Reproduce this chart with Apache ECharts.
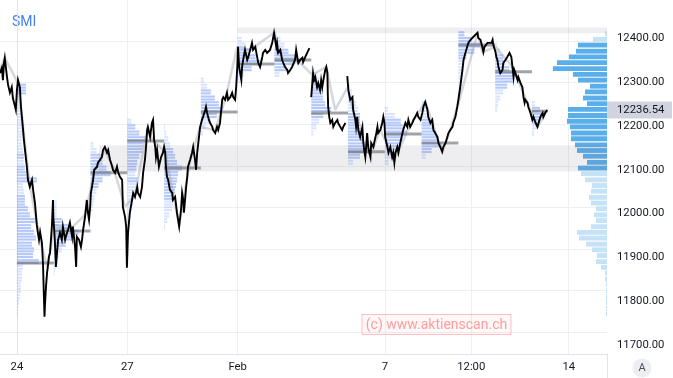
<!DOCTYPE html>
<html><head><meta charset="utf-8">
<script src="https://cdn.jsdelivr.net/npm/echarts@6/dist/echarts.min.js"></script>
<style>html,body{margin:0;padding:0;background:#fff}#c{width:673px;height:378px}</style>
</head><body><div id="c"></div>
<script>
// ---------------- DATA ----------------
// x = trading days since 24 Jan 09:00 (one trading session = 1), y = SMI points
const title = 'SMI';
const tickDays = [0, 3, 6, 10, 12.35, 15];
const tickLabels = ['24', '27', 'Feb', '7', '12:00', '14'];
const lastPrice = 12236.54;

const smiLine = [
[-0.46,12321],[-0.41,12333],[-0.38,12305],[-0.35,12346],[-0.33,12356],[-0.27,12312],[-0.24,12294],[-0.19,12276],[-0.14,12289],[-0.11,12264],[-0.05,12244],[-0.03,12237],
[0.00,12282],[0.03,12305],[0.08,12289],[0.11,12244],[0.16,12198],[0.19,12168],[0.22,12145],[0.27,12107],[0.30,12077],[0.35,12061],[0.41,12077],[0.44,12054],[0.49,12024],[0.54,11974],[0.57,11956],[0.60,11940],[0.63,11958],[0.68,11933],[0.71,11883],[0.73,11819],[0.75,11764],[0.76,11787],[0.79,11833],[0.82,11865],[0.84,11878],[0.87,11901],[0.90,11910],[0.95,11970],[0.98,12031],[0.99,11992],
[1.03,11940],[1.06,11878],[1.09,11910],[1.12,11940],[1.17,11956],[1.22,11940],[1.25,11970],[1.31,11940],[1.36,11956],[1.39,11963],[1.44,11979],[1.50,11947],[1.52,11970],[1.58,11924],[1.61,11878],[1.63,11947],[1.69,11940],[1.74,11924],[1.77,11940],[1.80,11963],[1.85,11992],[1.88,12015],[1.90,12031],[1.93,12002],[1.96,11986],
[1.99,12015],[2.01,12047],[2.04,12061],[2.07,12077],[2.10,12100],[2.18,12107],[2.20,12116],[2.26,12123],[2.31,12129],[2.34,12145],[2.39,12152],[2.45,12139],[2.48,12145],[2.53,12123],[2.59,12107],[2.61,12100],[2.67,12093],[2.72,12107],[2.75,12095],[2.80,12084],[2.86,12077],[2.88,12015],[2.94,11992],[2.97,11970],
[2.99,11876],[3.02,11956],[3.07,12002],[3.13,12031],[3.16,12047],[3.21,12038],[3.27,12061],[3.29,12047],[3.35,12038],[3.40,12061],[3.43,12093],[3.48,12123],[3.51,12152],[3.54,12191],[3.56,12198],[3.62,12175],[3.67,12207],[3.70,12214],[3.73,12168],[3.76,12152],[3.78,12129],[3.81,12145],[3.84,12123],[3.86,12107],[3.92,12129],[3.97,12139],
[4.00,12152],[4.03,12139],[4.05,12107],[4.08,12084],[4.11,12077],[4.16,12054],[4.22,12047],[4.24,12031],[4.30,12038],[4.35,12002],[4.38,11986],[4.41,11970],[4.46,12008],[4.49,12047],[4.52,12031],[4.54,12002],[4.57,12031],[4.60,12061],[4.63,12084],[4.65,12107],[4.71,12123],[4.76,12139],[4.79,12152],[4.84,12123],[4.87,12100],[4.90,12139],[4.93,12161],
[4.98,12198],[5.03,12214],[5.06,12221],[5.12,12237],[5.14,12244],[5.17,12230],[5.22,12214],[5.25,12207],[5.31,12198],[5.33,12191],[5.39,12184],[5.44,12198],[5.47,12191],[5.52,12207],[5.58,12260],[5.61,12266],[5.66,12260],[5.71,12276],[5.74,12260],[5.80,12266],[5.85,12276],[5.88,12266],[5.93,12260],[5.96,12289],
[5.99,12335],[6.01,12381],[6.04,12335],[6.10,12305],[6.12,12335],[6.15,12351],[6.20,12374],[6.26,12351],[6.29,12358],[6.34,12374],[6.39,12390],[6.42,12374],[6.48,12381],[6.53,12358],[6.56,12344],[6.61,12335],[6.67,12358],[6.69,12367],[6.75,12374],[6.80,12367],[6.83,12369],[6.88,12374],[6.94,12390],[6.97,12404],
[6.99,12413],[7.02,12397],[7.05,12381],[7.07,12390],[7.10,12367],[7.16,12374],[7.21,12351],[7.24,12344],[7.29,12335],[7.35,12328],[7.37,12321],[7.43,12328],[7.48,12335],[7.51,12333],[7.56,12351],[7.59,12374],[7.62,12358],[7.65,12344],[7.70,12351],[7.76,12356],[7.78,12346],[7.84,12358],[7.89,12367],[7.95,12378],
[7.97,null],
[8.00,12266],[8.03,12298],[8.05,12321],[8.08,12305],[8.11,12312],[8.16,12289],[8.19,12298],[8.24,12282],[8.27,12305],[8.30,12289],[8.33,12305],[8.38,12328],[8.41,12335],[8.44,12321],[8.45,12276],[8.46,12244],[8.49,12221],[8.52,12207],[8.57,12214],[8.60,12198],[8.65,12207],[8.71,12214],[8.73,12207],[8.79,12198],[8.84,12191],[8.87,12198],[8.93,12207],
[8.95,null],
[8.98,12314],[9.01,12282],[9.06,12260],[9.12,12266],[9.14,12237],[9.20,12214],[9.22,12198],[9.25,12221],[9.28,12191],[9.33,12175],[9.39,12198],[9.41,12168],[9.44,12145],[9.47,12129],[9.50,12161],[9.52,12184],[9.55,12152],[9.58,12139],[9.61,12129],[9.63,12161],[9.69,12152],[9.71,12161],[9.77,12184],[9.80,12198],[9.82,12184],[9.88,12191],[9.93,12207],[9.96,12221],
[9.99,12207],[10.01,12175],[10.07,12152],[10.10,12139],[10.15,12152],[10.20,12129],[10.23,12139],[10.26,12116],[10.29,12139],[10.34,12152],[10.37,12139],[10.42,12161],[10.48,12184],[10.50,12191],[10.56,12207],[10.61,12198],[10.64,12214],[10.69,12198],[10.75,12207],[10.78,12214],[10.83,12221],[10.88,12230],[10.91,12221],
[10.97,12214],[11.02,12230],[11.05,12244],[11.10,12255],[11.16,12237],[11.18,12221],[11.24,12207],[11.29,12214],[11.32,12191],[11.37,12184],[11.43,12175],[11.46,12161],[11.51,12152],[11.56,12141],[11.59,12152],[11.65,12161],[11.70,12175],[11.73,12184],[11.78,12191],[11.84,12198],[11.86,12207],[11.92,12221],
[11.97,12244],[12.00,12260],[12.05,12289],[12.11,12328],[12.14,12351],[12.19,12367],[12.24,12381],[12.27,12390],[12.33,12397],[12.38,12401],[12.41,12404],[12.46,12408],[12.52,12413],[12.54,12401],[12.60,12397],[12.65,12381],[12.68,12369],[12.71,12381],[12.76,12385],[12.79,12390],[12.84,12392],[12.90,12390],[12.93,12397],[12.95,12385],
[12.98,12381],[13.01,12369],[13.03,12358],[13.06,12351],[13.09,12335],[13.14,12321],[13.20,12328],[13.22,12344],[13.28,12351],[13.33,12358],[13.36,12362],[13.39,12367],[13.44,12358],[13.47,12335],[13.50,12312],[13.52,12328],[13.55,12321],[13.61,12305],[13.63,12312],[13.69,12298],[13.74,12289],[13.77,12266],[13.80,12253],[13.82,12260],[13.88,12253],[13.90,12244],
[13.96,12230],[14.01,12214],[14.04,12221],[14.10,12207],[14.15,12198],[14.18,12207],[14.23,12221],[14.29,12230],[14.31,12221],[14.37,12232],[14.42,12236.54]
];

// faint coarse price trace drawn behind the main line
const smiCoarse = [
[-0.46,12328],[-0.33,12356],[0.03,12298],[0.35,12065],[0.63,11940],[0.82,11878],[1.03,11974],[1.44,11963],[1.85,11997],[2.12,12100],[2.39,12145],[2.61,12107],[2.94,12015],[3.21,12043],[3.54,12191],[3.70,12168],[4.03,12141],[4.41,11974],[4.71,12123],[4.98,12198],[5.39,12191],[5.66,12260],[5.99,12381],[6.34,12374],[6.99,12413],[7.21,12351],[7.70,12344],[8.03,12317],[8.41,12335],[8.65,12237],[8.98,12287],[9.33,12175],[9.61,12134],[9.88,12191],[10.26,12123],[10.69,12202],[11.10,12255],[11.56,12141],[11.78,12191],[12.05,12266],[12.52,12413],[12.65,12369],[13.01,12381],[13.47,12335],[14.15,12198],[14.42,12237]
];

// price bins of the volume profiles (bin centres)
const binPrices = [12411,12398,12385,12371,12358,12345,12331,12318,12305,12291,12278,12264,12251,12238,12224,12211,12198,12184,12171,12157,12144,12131,12117,12104,12091,12077,12064,12051,12037,12024,12011,11997,11984,11970,11957,11944,11930,11917,11904,11890,11877,11864,11850,11837,11824,11810,11797,11783,11770];
// visible-range profile (relative volume per bin)
const rangeVolume = [2,14,29,31,38,50,54,34,29,17,22,24,20,39,39,40,37,36,36,32,30,24,20,29,26,22,15,16,18,16,11,13,11,16,30,28,21,15,10,11,6,2,2,1,1,1,1,1,1];
const rangeValueArea = [12104, 12385];

// session profiles: session start (days), first bin (1-based), relative volumes, point of control
const sessionStart = [0,1,2,3,4,5,6,7,8,9,10,11,12,13,14];
const sessionFirstBin = [10,30,20,16,17,9,2,1,7,10,14,13,1,3,13];
const sessionVolume = [
[9,9,2,2,3,4,4,5,6,5,5,6,7,7,8,9,20,6,7,8,8,11,13,18,14,17,19,15,17,16,22,6,5,5,4,4,3,2,1,1],
[3,3,3,8,15,25,18,12,8,5,3,2,1],
[3,6,10,12,16,20,12,8,6,4,3,2],
[4,8,12,20,16,15,12,10,9,8,10,8,7,7,5,4,3,1],
[1,2,4,6,9,11,13,18,14,13,12,11,10,9,8,5,3,1],
[3,6,10,14,18,22,16,10,5,2],
[4,8,12,18,24,14,6,2],
[2,6,10,14,22,20,12,5],
[2,6,8,10,12,12,14,20,12,8,5,2],
[2,4,6,8,10,12,12,13,14,14,15,20,12,5],
[3,10,16,18,22,18,15,12,8,4],
[3,6,8,10,12,14,16,20,10,4],
[6,14,22,16,8,6,5,4,4,3,3,2,1],
[2,5,8,10,14,20,18,12,8,5,3,2],
[3,8,10,8,5,2]
];
const sessionPOC = [11887,11960,12093,12166,12104,12232,12342,12351,12230,12141,12182,12161,12385,12324,12234];

// shaded zones: start day, low, high
const zoneStart = [6, 2.23];
const zoneLow = [12412, 12096];
const zoneHigh = [12425, 12156];

// ---------------- CHART ----------------
const X_MIN = -0.46, X_MAX = 16.04, X_STEP = 0.01;
const BIN = 13.36;          // points per profile bin
const VOL_PER_DAY = 36.75;  // volume units spanning one session width
const nCat = Math.round((X_MAX - X_MIN) / X_STEP) + 1;
const catNames = [], labelAt = {};
for (let i = 0; i < nCat; i++) catNames.push('c' + i);
tickDays.forEach((d, k) => { labelAt[Math.round((d - X_MIN) / X_STEP)] = tickLabels[k]; });
const isTick = (i) => labelAt[i] !== undefined;

const lastT = smiLine[smiLine.length - 1][0];

// session profile rows
const sessRows = [];
sessionVolume.forEach((vols, s) => {
  const total = vols.reduce((a, b) => a + b, 0);
  const order = vols.map((v, i) => i).sort((a, b) => vols[b] - vols[a]);
  const va = new Array(vols.length).fill(0);
  let acc = 0;
  for (const i of order) { if (acc >= 0.7 * total) break; va[i] = 1; acc += vols[i]; }
  vols.forEach((v, i) => {
    sessRows.push([sessionStart[s], binPrices[sessionFirstBin[s] - 1 + i], v, va[i]]);
  });
});
const pocRows = sessionPOC.map((p, s) => [sessionStart[s], p, Math.min(sessionStart[s] + 1, lastT)]);
const rangeRows = rangeVolume.map((v, i) => [X_MAX, binPrices[i], v,
  (binPrices[i] >= rangeValueArea[0] && binPrices[i] <= rangeValueArea[1]) ? 1 : 0]);
const zoneRows = zoneStart.map((x, i) => [x, zoneLow[i], zoneHigh[i]]);

const FONT = 'Roboto';
const chart = echarts.init(document.getElementById('c'), null, { renderer: 'canvas' });
chart.setOption({
  animation: false,
  backgroundColor: '#ffffff',
  grid: { left: 0, right: 66, top: 0, bottom: 24, containLabel: false },
  xAxis: [
    { type: 'value', min: X_MIN, max: X_MAX, show: false },
    { type: 'category', data: catNames, boundaryGap: false, position: 'bottom',
      axisLine: { show: true, lineStyle: { color: '#e0e3eb', width: 1 } },
      axisTick: { show: false },
      axisLabel: { interval: (i) => isTick(i), formatter: (v, i) => labelAt[i] || '',
        color: '#131722', fontSize: 11.3, fontFamily: FONT, margin: 8 },
      splitLine: { show: true, interval: (i) => isTick(i), lineStyle: { color: '#eeeff2', width: 1 } } }
  ],
  yAxis: [
    { type: 'value', position: 'right', min: 11679, max: 12488, minInterval: 100, maxInterval: 100,
      axisLine: { show: true, lineStyle: { color: '#e0e3eb' } }, axisTick: { show: false },
      axisLabel: { color: '#131722', fontSize: 11.3, fontFamily: FONT, margin: 10,
        showMinLabel: false, showMaxLabel: false, formatter: (v) => v.toFixed(2) },
      splitLine: { show: false } },
    { type: 'value', position: 'right', min: 11648, max: 12498, minInterval: 100, maxInterval: 100,
      axisLine: { show: false }, axisTick: { show: false }, axisLabel: { show: false },
      splitLine: { show: true, showMinLine: false, showMaxLine: false, lineStyle: { color: '#eeeff2', width: 1 } } }
  ],
  series: [
    { type: 'custom', name: 'sessions', xAxisIndex: 0, yAxisIndex: 0, z: 1, data: sessRows,
      encode: { x: 0, y: 1 }, silent: true,
      renderItem: (params, api) => {
        const d = api.value(0), p = api.value(1), v = api.value(2);
        const a = api.coord([d, p]);
        const b = api.coord([d + v / VOL_PER_DAY, p]);
        const h = api.size([0, BIN])[1];
        const fill = api.value(3) ? 'rgba(92,136,245,0.46)' : 'rgba(92,136,245,0.24)';
        const sh = h / 2 - 0.8;
        return { type: 'group', children: [
          { type: 'rect', shape: { x: a[0], y: a[1] - h / 2 + 0.4, width: b[0] - a[0], height: sh }, style: { fill } },
          { type: 'rect', shape: { x: a[0], y: a[1] + 0.4, width: b[0] - a[0], height: sh }, style: { fill } }
        ] };
      } },
    { type: 'custom', name: 'range profile', xAxisIndex: 0, yAxisIndex: 0, z: 1, data: rangeRows,
      encode: { x: 0, y: 1 }, silent: true,
      renderItem: (params, api) => {
        const x = api.value(0), p = api.value(1), v = api.value(2);
        const b = api.coord([x, p]);
        const a = api.coord([x - v / VOL_PER_DAY, p]);
        const h = api.size([0, BIN])[1];
        return { type: 'rect', shape: { x: a[0], y: a[1] - h / 2 + 0.5, width: b[0] - a[0], height: h - 1 },
          style: { fill: api.value(3) ? '#5aaee9' : '#c5e2f7' } };
      } },
    { type: 'custom', name: 'zones', xAxisIndex: 0, yAxisIndex: 0, z: 2, data: zoneRows,
      encode: { x: 0, y: [1, 2] }, silent: true,
      renderItem: (params, api) => {
        const a = api.coord([api.value(0), api.value(2)]);
        const b = api.coord([X_MAX, api.value(1)]);
        return { type: 'rect', shape: { x: a[0], y: a[1], width: b[0] - a[0], height: b[1] - a[1] },
          style: { fill: 'rgba(120,122,140,0.13)' } };
      } },
    { type: 'custom', name: 'poc', xAxisIndex: 0, yAxisIndex: 0, z: 3, data: pocRows,
      encode: { x: 0, y: 1 }, silent: true,
      renderItem: (params, api) => {
        const a = api.coord([api.value(0), api.value(1)]);
        const b = api.coord([api.value(2), api.value(1)]);
        return { type: 'line', shape: { x1: a[0], y1: a[1], x2: b[0], y2: b[1] },
          style: { stroke: 'rgba(105,106,116,0.62)', lineWidth: 3 } };
      } },
    { type: 'line', name: 'coarse', xAxisIndex: 0, yAxisIndex: 0, z: 4, data: smiCoarse,
      symbol: 'none', silent: true, lineStyle: { color: 'rgba(150,152,165,0.38)', width: 2.5 } },
    { type: 'line', name: 'SMI', xAxisIndex: 0, yAxisIndex: 0, z: 5, data: smiLine,
      symbol: 'none', connectNulls: false, silent: true, sampling: false,
      lineStyle: { color: '#000000', width: 1.9, join: 'miter' } }
  ]
});

const yLast = chart.convertToPixel({ yAxisIndex: 0 }, lastPrice);
const gridRight = chart.convertToPixel({ xAxisIndex: 0 }, X_MAX);
chart.setOption({
  graphic: [
    { type: 'text', left: 12, top: 15, style: { text: title, fill: '#4682f0', font: '14px ' + FONT } },
    { type: 'line', shape: { x1: gridRight + 0.5, y1: 354, x2: gridRight + 0.5, y2: 378 }, style: { stroke: '#e0e3eb', lineWidth: 1 } },
    { type: 'rect', shape: { x: gridRight, y: yLast - 8.5, width: 65, height: 17 }, style: { fill: '#d1d4dc' }, z: 10 },
    { type: 'text', x: gridRight + 10, y: yLast, style: { text: lastPrice.toFixed(2), fill: '#131722', font: '11.3px ' + FONT, verticalAlign: 'middle' }, z: 11 },
    { type: 'rect', shape: { x: 362, y: 314.5, width: 149, height: 20 }, style: { fill: 'rgba(255,110,110,0.05)', stroke: 'rgba(255,120,120,0.45)', lineWidth: 1 }, z: 10 },
    { type: 'text', x: 436.5, y: 325, style: { text: '(c) www.aktienscan.ch', fill: 'rgba(255,95,95,0.6)', font: '14px ' + FONT, align: 'center', verticalAlign: 'middle' }, z: 11 },
    { type: 'circle', shape: { cx: 642, cy: 368, r: 9.5 }, style: { fill: '#eceef2' }, z: 10 },
    { type: 'text', x: 642, y: 368.5, style: { text: 'A', fill: '#50535e', font: '11px ' + FONT, align: 'center', verticalAlign: 'middle' }, z: 11 }
  ]
});
</script>
</body></html>
